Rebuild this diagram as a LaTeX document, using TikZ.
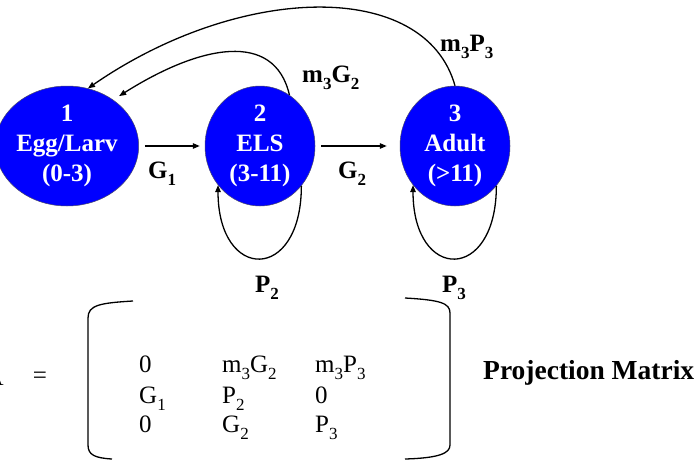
\documentclass[tikz,border=0pt]{standalone}
\usepackage{fontspec}
\setmainfont{Liberation Serif}
\usepackage{xcolor}
\usepackage{tikz}
\usetikzlibrary{arrows.meta,shapes.geometric}
\definecolor{stageblue}{HTML}{0000FF}
\definecolor{stageedge}{HTML}{4A4A6A}
\newcommand{\lowsub}[1]{\raisebox{-0.28em}{\fontsize{17}{17}\selectfont #1}}
\tikzset{
    stage/.style={ellipse, fill=stageblue, draw=stageedge, line width=0.5pt,
        minimum width=110pt, minimum height=120pt, inner sep=0pt, align=center,
        text=white, font=\fontsize{25}{30}\selectfont\bfseries},
    flow/.style={line width=1.3pt, -{Triangle[length=7pt,width=5.5pt]}},
    rate/.style={anchor=base west, inner sep=0pt, font=\fontsize{25}{30}\selectfont\bfseries},
    entry/.style={anchor=base west, inner sep=0pt, font=\fontsize{25}{30}\selectfont}
}

\begin{document}
\begin{tikzpicture}[x=1pt, y=1pt]
        \useasboundingbox (0, 0) rectangle (700, 459);

        % ----------------------------------------------------
        % LIFE STAGES
        % ----------------------------------------------------
        \node[stage] (egg)   at (67, 313)  {1\\Egg/Larv\\(0-3)};
        \node[stage] (els)   at (260, 313) {2\\ELS\\(3-11)};
        \node[stage] (adult) at (455, 313) {3\\Adult\\(>11)};

        % ----------------------------------------------------
        % GROWTH
        % ----------------------------------------------------
        \draw[flow, shorten <=6pt, shorten >=5pt] (egg) -- (els);
        \node[rate] (g1) at (148, 281) {G\lowsub{1}};
        \draw[flow, shorten <=6pt, shorten >=13pt] (els) -- (adult);
        \node[rate] (g2) at (338, 281) {G\lowsub{2}};

        % ----------------------------------------------------
        % FECUNDITY
        % ----------------------------------------------------
        \draw[flow, shorten >=7pt] (els.60) .. controls +(-15, 65) and +(87, 55) .. (egg.45);
        \node[rate] (m3g2) at (302, 377) {m\lowsub{3}G\lowsub{2}};
        \draw[flow] (adult.90) .. controls +(-30, 107) and +(152, 105) .. (egg.70);
        \node[rate] (m3p3) at (440, 407) {m\lowsub{3}P\lowsub{3}};

        % ----------------------------------------------------
        % STAYING
        % ----------------------------------------------------
        \draw[flow] (els.-44) .. controls +(0, -97) and +(0, -97) .. (els.-137);
        \node[rate] (p2) at (255, 167) {P\lowsub{2}};
        \draw[flow] (adult.-44) .. controls +(0, -97) and +(0, -97) .. (adult.-137);
        \node[rate] (p3) at (442, 167) {P\lowsub{3}};

        % ----------------------------------------------------
        % PROJECTION MATRIX
        % ----------------------------------------------------
        \node[anchor=base east, inner sep=0pt, font=\fontsize{25}{30}\selectfont] (lhs) at (4, 74) {A};
        \node[inner sep=0pt, font=\fontsize{25}{30}\selectfont] (eq) at (40, 81) {=};
        \draw[line width=1.3pt] (133, 158) .. controls (100, 156) and (88, 154) .. (88, 141)
            -- (88, 14) .. controls (88, 4) and (95, 1) .. (112, 0);
        \draw[line width=1.3pt] (405, 161) .. controls (440, 159) and (450, 156) .. (450, 146)
            -- (450, 14) .. controls (450, 6) and (440, 1) .. (405, 0);
        \node[entry] (a11) at (139, 87) {0};
        \node[entry] (a12) at (222, 87) {m\lowsub{3}G\lowsub{2}};
        \node[entry] (a13) at (315, 87) {m\lowsub{3}P\lowsub{3}};
        \node[entry] (a21) at (139, 56) {G\lowsub{1}};
        \node[entry] (a22) at (222, 56) {P\lowsub{2}};
        \node[entry] (a23) at (315, 56) {0};
        \node[entry] (a31) at (139, 27) {0};
        \node[entry] (a32) at (222, 27) {G\lowsub{2}};
        \node[entry] (a33) at (315, 27) {P\lowsub{3}};
        \node[rate, font=\fontsize{27.5}{32}\selectfont\bfseries] (title) at (483, 80) {Projection Matrix};
    \end{tikzpicture}
\end{document}
